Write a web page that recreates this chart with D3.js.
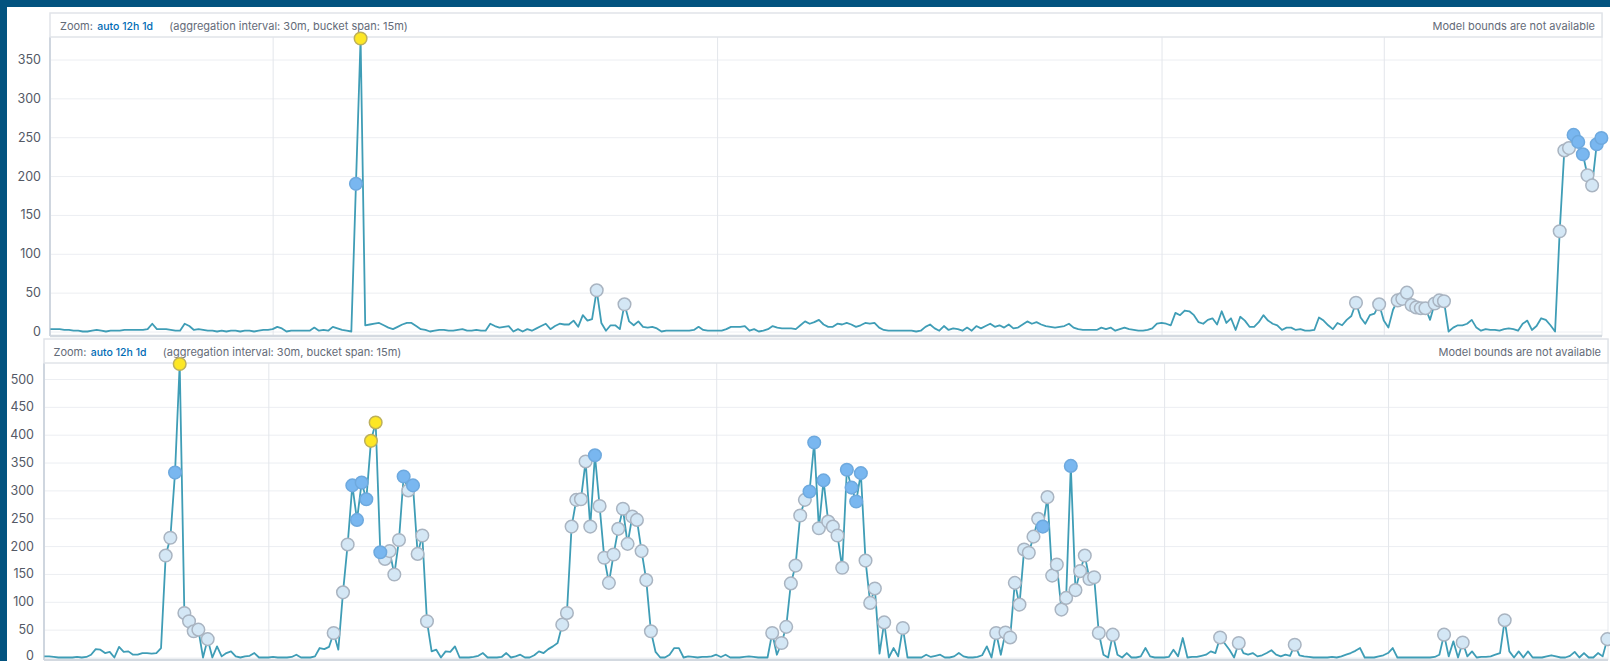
<!DOCTYPE html>
<html>
<head>
<meta charset="utf-8">
<script src="https://cdn.jsdelivr.net/npm/d3@7/dist/d3.min.js"></script>
<style>
  html, body { margin: 0; padding: 0; background: #03537f; }
  svg { display: block; }
  .tick-label { font-family: Inter, "Open Sans", sans-serif; font-size: 12.5px; fill: #535966; }
  .header-text { font-family: Inter, "Open Sans", sans-serif; font-size: 11px; fill: #646b78; white-space: pre; }
  .header-link { fill: #006bb4; font-weight: 500; font-size: 10.5px; }
</style>
</head>
<body>
<svg id="chart" width="1610" height="661"></svg>
<script>
// ---- data -------------------------------------------------------------
// 30-minute buckets starting at midnight
const firstBucket = new Date(2021, 0, 26, 0, 0);
const bucketMinutes = 30;

// upper detector: event count per bucket
const topValues = [
  3,3,3,2,2,1,1,0,0,1,
  2,1,0,1,1,1,2,2,2,2,
  2,3,10,3,3,3,2,1,1,10,
  7,2,3,2,1,1,0,1,0,1,
  1,0,1,1,0,1,2,2,3,6,
  4,0,1,1,1,1,1,5,1,2,
  1,6,4,2,1,0,190,377,8,9,
  10,11,8,5,3,6,9,11,11,7,
  3,2,0,1,2,2,1,1,2,3,
  1,1,2,1,1,10,7,5,6,7,
  0,3,0,3,1,4,7,10,3,7,
  10,9,9,14,6,21,14,16,53,11,
  1,8,8,3,35,13,8,13,6,5,
  6,4,0,1,1,1,1,1,1,2,
  6,2,1,1,1,1,3,6,6,6,
  7,1,3,0,1,3,7,5,4,4,
  4,3,8,13,10,12,15,9,6,6,
  10,9,11,9,6,8,11,10,11,5,
  2,1,1,1,1,1,1,0,1,6,
  9,4,1,7,2,4,3,1,5,1,
  7,4,7,10,6,8,5,9,4,5,
  9,13,10,12,9,7,6,5,6,7,
  10,5,3,2,2,2,2,5,3,5,
  1,3,5,3,2,1,1,2,4,10,
  11,10,8,24,21,27,26,21,12,10,
  15,17,9,26,11,17,2,19,14,6,
  6,12,21,14,10,8,2,5,5,2,
  3,1,1,2,18,14,8,3,11,8,
  15,20,37,18,10,21,23,35,14,5,
  28,40,42,50,34,31,30,30,15,36,
  40,39,0,5,8,8,10,15,5,1,
  3,2,2,1,3,4,3,1,10,14,
  2,7,17,15,8,0,129,233,236,253,
  244,228,201,188,241,249
];
// anomaly markers by severity (bucket indices)
const topLow = [118,124,282,287,291,292,293,294,295,296,297,299,300,301,326,327,328,332,333];
const topWarning = [66,329,330,331,334,335];
const topMinor = [67];
const topYTicks = [0,50,100,150,200,250,300,350];

// lower detector: event count per bucket
const bottomValues = [
  2,2,1,0,0,0,0,1,0,1,
  5,15,14,8,10,0,19,10,11,5,
  5,8,8,7,8,17,183,215,332,527,
  80,65,47,50,0,33,0,20,2,8,
  11,2,0,2,3,8,0,0,0,1,
  0,0,0,1,5,0,0,0,2,17,
  15,19,44,14,117,203,309,247,314,284,
  389,422,189,177,191,149,211,325,300,309,
  186,219,65,11,14,0,11,10,20,0,
  0,0,1,3,8,0,0,0,1,8,
  0,2,5,0,0,4,11,8,15,20,
  26,59,80,235,283,284,352,235,363,272,
  179,134,185,231,267,204,253,247,191,139,
  47,10,0,0,5,17,17,0,2,1,
  0,1,1,2,5,1,5,0,0,0,
  1,2,1,0,0,0,44,5,26,55,
  133,165,255,283,298,386,232,318,244,235,
  219,161,337,305,280,331,174,98,124,7,
  63,0,17,2,53,0,0,0,0,5,
  1,3,5,0,0,2,8,2,0,0,
  1,4,20,0,44,5,45,36,134,95,
  194,188,217,249,235,288,147,167,86,107,
  344,121,155,183,141,144,44,5,0,41,
  5,0,8,0,0,2,17,2,0,0,
  0,1,14,2,35,0,1,1,3,5,
  11,8,36,25,14,0,26,8,5,8,
  2,4,8,13,5,2,5,3,23,4,
  2,1,0,0,0,0,1,0,2,5,
  8,12,17,0,0,0,2,4,8,17,
  0,0,0,0,0,0,0,0,1,5,
  41,2,29,0,27,2,11,0,1,1,
  2,5,8,67,11,0,11,0,11,0,
  0,0,2,4,2,0,0,3,10,0,
  8,0,0,8,2,33
];
const bottomLow = [26,27,30,31,32,33,35,62,64,65,73,74,75,76,78,80,81,82,
  111,112,113,114,115,116,117,119,120,121,122,123,124,125,126,127,128,129,130,
  156,158,159,160,161,162,163,166,168,169,170,171,176,177,178,180,184,
  204,206,207,208,209,210,211,212,213,215,216,217,218,219,221,222,223,224,225,226,229,
  252,256,268,300,304,313,335];
const bottomWarning = [28,66,67,68,69,72,77,79,118,164,165,167,172,173,174,175,214,220];
const bottomMinor = [29,70,71];
const bottomYTicks = [0,50,100,150,200,250,300,350,400,450,500];

// header texts
const zoomLabel = "Zoom:";
const zoomOptions = ["auto", "12h", "1d"];
const intervalNote = "(aggregation interval: 30m, bucket span: 15m)";
const boundsNote = "Model bounds are not available";

// ---- layout -----------------------------------------------------------
const severityStyles = [
  { key: "low",     fill: "#d4e7f5", stroke: "#a9b4c1" },
  { key: "warning", fill: "#79b7f0", stroke: "#6ea9de" },
  { key: "minor",   fill: "#fde725", stroke: "#bdb05a" }
];

const panels = [
  { values: topValues, low: topLow, warning: topWarning, minor: topMinor, yTicks: topYTicks,
    left: 50, right: 1602, top: 13, headerH: 24, bottom: 336,
    xRange: [50.4, 1606], yZero: 331.5, yMaxTick: 59.5, labelX: 41, textInset: 10, zeroLift: 0 },
  { values: bottomValues, low: bottomLow, warning: bottomWarning, minor: bottomMinor, yTicks: bottomYTicks,
    left: 44, right: 1608, top: 339, headerH: 24, bottom: 660,
    xRange: [44.4, 1612], yZero: 657.5, yMaxTick: 379, labelX: 34, textInset: 9.5, zeroLift: 2.5 }
];
// where the link group and the interval note start, relative to "Zoom:"
const headerOffsets = [0, 37.3, 109.3];

const svg = d3.select("#chart");

// white card behind both charts
svg.append("rect").attr("x", 7).attr("y", 7).attr("width", 1603).attr("height", 654).attr("fill", "#ffffff");

panels.forEach(p => {
  const times = p.values.map((_, i) => d3.timeMinute.offset(firstBucket, i * bucketMinutes));
  const x = d3.scaleTime()
    .domain([firstBucket, d3.timeDay.offset(firstBucket, 7)])
    .range(p.xRange);
  const y = d3.scaleLinear()
    .domain([0, d3.max(p.yTicks)])
    .range([p.yZero, p.yMaxTick]);

  const plotTop = p.top + p.headerH;
  const g = svg.append("g");

  // horizontal grid
  g.append("g")
    .attr("transform", `translate(${p.left},0)`)
    .call(d3.axisLeft(y).tickValues(p.yTicks).tickSize(-(p.right - p.left)).tickFormat(""))
    .call(s => s.select(".domain").remove())
    .call(s => s.selectAll("line").attr("stroke", "#eceef2").attr("stroke-width", 1));

  // vertical day grid
  g.append("g")
    .attr("transform", `translate(0,${p.bottom})`)
    .call(d3.axisBottom(x).ticks(d3.timeDay.every(2)).tickSize(-(p.bottom - plotTop)).tickFormat(""))
    .call(s => s.select(".domain").remove())
    .call(s => s.selectAll("line").attr("stroke", "#e3e6eb").attr("stroke-width", 1));

  // frame
  g.append("line").attr("x1", p.right).attr("x2", p.right).attr("y1", p.top).attr("y2", p.bottom)
    .attr("stroke", "#e6e9ed").attr("stroke-width", 1);
  g.append("line").attr("x1", p.left).attr("x2", p.right).attr("y1", p.bottom).attr("y2", p.bottom)
    .attr("stroke", "#d3d9e0").attr("stroke-width", 2.5);
  g.append("line").attr("x1", p.left).attr("x2", p.left).attr("y1", plotTop).attr("y2", p.bottom)
    .attr("stroke", "#cfd6df").attr("stroke-width", 2);

  // header bar
  g.append("rect")
    .attr("x", p.left).attr("y", p.top)
    .attr("width", p.right - p.left).attr("height", p.headerH)
    .attr("fill", "#ffffff").attr("stroke", "#e1e4e9").attr("stroke-width", 1.5);

  const baseline = p.top + p.headerH / 2 + 4.5;
  const tx = p.left + p.textInset;
  const header = g.append("text").attr("class", "header-text").attr("y", baseline);
  header.append("tspan").attr("x", tx + headerOffsets[0]).text(zoomLabel);
  header.append("tspan").attr("class", "header-link").attr("x", tx + headerOffsets[1])
    .text(zoomOptions.join(" "));
  header.append("tspan").attr("x", tx + headerOffsets[2]).text(intervalNote);

  g.append("text").attr("class", "header-text")
    .attr("x", p.right - 7).attr("y", baseline).attr("text-anchor", "end")
    .text(boundsNote);

  // y tick labels
  g.append("g")
    .attr("transform", `translate(${p.labelX},0)`)
    .call(d3.axisLeft(y).tickValues(p.yTicks).tickSize(0).tickPadding(0))
    .call(s => s.select(".domain").remove())
    .call(s => s.selectAll("text").attr("class", "tick-label").attr("fill", null))
    .call(s => s.selectAll(".tick").filter(d => d === 0)
      .select("text").attr("y", -p.zeroLift));

  // series line
  const line = d3.line()
    .x((d, i) => x(times[i]))
    .y(d => y(d));
  g.append("path")
    .datum(p.values)
    .attr("fill", "none")
    .attr("stroke", "#3f9db6")
    .attr("stroke-width", 1.8)
    .attr("stroke-linejoin", "round")
    .attr("d", line);

  // anomaly markers, lowest severity first
  const markerSets = { low: p.low, warning: p.warning, minor: p.minor };
  severityStyles.forEach(st => {
    g.append("g").selectAll("circle")
      .data(markerSets[st.key])
      .join("circle")
      .attr("cx", i => x(times[i]))
      .attr("cy", i => y(p.values[i]))
      .attr("r", 6.3)
      .attr("fill", st.fill)
      .attr("stroke", st.stroke)
      .attr("stroke-width", 1.5);
  });
});
</script>
</body>
</html>
